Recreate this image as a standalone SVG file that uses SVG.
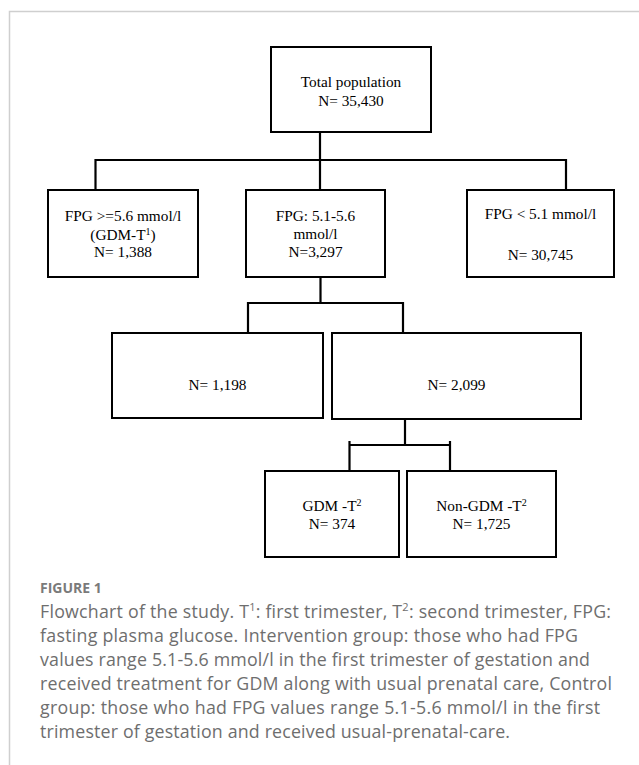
<svg xmlns="http://www.w3.org/2000/svg" width="639" height="765" viewBox="0 0 639 765">
<style>
.box{fill:#fff;stroke:#000;stroke-width:2}
.con{fill:none;stroke:#000;stroke-width:2.2}
.t{font-family:"Liberation Serif","Times New Roman",serif;font-size:15.3px;fill:#000;text-anchor:middle}
.sup{font-size:10px}
.csup{font-size:11px}
.cap{font-family:"Open Sans","Noto Sans",sans-serif;font-size:17.8px;fill:#6e6e6e}
.fig{font-family:"Open Sans","Noto Sans",sans-serif;font-size:14px;font-weight:bold;fill:#7a7a7a}
</style>
<rect width="639" height="765" fill="#fff"/>
<path d="M9.5,765 V11.5 H639" fill="none" stroke="#cfcfcf" stroke-width="1.5"/>
<g id="connectors">
<path class="con" d="M320,132 V160 M95.5,189 V160 H566 V189 M320,160 V189"/>
<path class="con" d="M320.5,277 V303 M248,333 V303 H403 V333"/>
<path class="con" d="M405,419 V445 M349.5,441 V471 M450,441 V471 M349.5,445 H450"/>
</g>
<g id="n-total">
<rect class="box" x="271" y="47" width="160" height="85"/>
<text class="t" x="351" y="87">Total population</text>
<text class="t" x="351" y="105.5">N= 35,430</text>
</g>
<g id="n-gdm1">
<rect class="box" x="48" y="190" width="150" height="87"/>
<text class="t" x="123" y="221">FPG &gt;=5.6 mmol/l</text>
<text class="t" x="123" y="240">(GDM-T<tspan class="sup" dy="-5">1</tspan><tspan dy="5">)</tspan></text>
<text class="t" x="123" y="257">N= 1,388</text>
</g>
<g id="n-mid">
<rect class="box" x="246" y="190" width="139" height="87"/>
<text class="t" x="315.5" y="221">FPG: 5.1-5.6</text>
<text class="t" x="315.5" y="239">mmol/l</text>
<text class="t" x="315.5" y="257">N=3,297</text>
</g>
<g id="n-low">
<rect class="box" x="467" y="190" width="147" height="87"/>
<text class="t" x="540.5" y="219">FPG &lt; 5.1 mmol/l</text>
<text class="t" x="540.5" y="260">N= 30,745</text>
</g>
<g id="n-1198">
<rect class="box" x="112" y="333" width="211" height="85"/>
<text class="t" x="217.5" y="390">N= 1,198</text>
</g>
<g id="n-2099">
<rect class="box" x="332" y="333" width="249" height="86"/>
<text class="t" x="456.5" y="390">N= 2,099</text>
</g>
<g id="n-gdm2">
<rect class="box" x="265" y="471" width="134" height="86"/>
<text class="t" x="332" y="511">GDM -T<tspan class="sup" dy="-5">2</tspan></text>
<text class="t" x="332" y="529">N= 374</text>
</g>
<g id="n-nongdm">
<rect class="box" x="407" y="471" width="149" height="86"/>
<text class="t" x="481.5" y="511">Non-GDM -T<tspan class="sup" dy="-5">2</tspan></text>
<text class="t" x="481.5" y="529">N= 1,725</text>
</g>
<g id="caption">
<text class="fig" x="40" y="593">FIGURE 1</text>
<text class="cap" x="40" y="618" textLength="571" lengthAdjust="spacing">Flowchart of the study. T<tspan class="csup" dy="-7">1</tspan><tspan dy="7">: first trimester, T</tspan><tspan class="csup" dy="-7">2</tspan><tspan dy="7">: second trimester, FPG:</tspan></text>
<text class="cap" x="40" y="642" textLength="538" lengthAdjust="spacing">fasting plasma glucose. Intervention group: those who had FPG</text>
<text class="cap" x="40" y="666" textLength="550" lengthAdjust="spacing">values range 5.1-5.6 mmol/l in the first trimester of gestation and</text>
<text class="cap" x="40" y="690" textLength="572" lengthAdjust="spacing">received treatment for GDM along with usual prenatal care, Control</text>
<text class="cap" x="40" y="714" textLength="560" lengthAdjust="spacing">group: those who had FPG values range 5.1-5.6 mmol/l in the first</text>
<text class="cap" x="40" y="738" textLength="470" lengthAdjust="spacing">trimester of gestation and received usual-prenatal-care.</text>
</g>
</svg>
